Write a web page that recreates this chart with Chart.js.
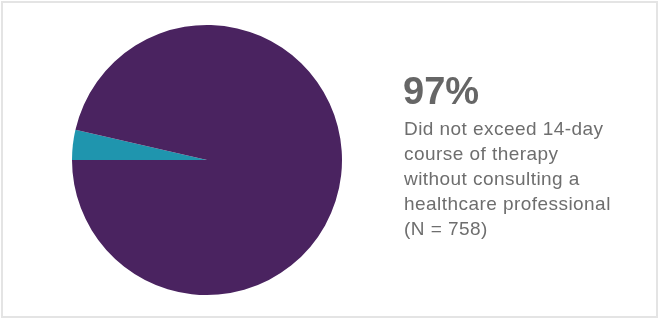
<!DOCTYPE html>
<html>
<head>
<meta charset="utf-8">
<script src="https://cdn.jsdelivr.net/npm/chart.js@4/dist/chart.umd.min.js"></script>
<style>
  body { margin: 0; background: #fff; }
  #wrap { position: relative; width: 660px; height: 320px; overflow: hidden; }
  #frame { position: absolute; left: 1px; top: 1px; width: 657px; height: 317px; box-sizing: border-box; border: 2px solid #e4e4e4; pointer-events: none; }
  #chart { position: absolute; left: 0; top: 0; }
  #big { position: absolute; left: 403px; top: 70px; font: bold 38px 'Liberation Sans', Arial, sans-serif; color: #666666; }
  #desc { position: absolute; left: 404px; top: 116px; font: 19px 'Liberation Sans', Arial, sans-serif; letter-spacing: 0.45px; line-height: 25px; color: #6e6e6e; }
</style>
</head>
<body>
<div id="wrap">
  <canvas id="chart" width="660" height="320"></canvas>
  <div id="big">97%</div>
  <div id="desc">Did not exceed 14-day<br>course of therapy<br>without consulting a<br>healthcare professional<br>(N = 758)</div>
  <div id="frame"></div>
</div>
<script>
const labels = ['Exceeded 14-day course', 'Did not exceed 14-day course']
const shares = [3.6, 96.4]
const colors = ['#1f95ae', '#4a2360']

const canvas = document.getElementById('chart')

new Chart(canvas, {
  type: 'pie',
  data: {
    labels,
    datasets: [{
      data: shares,
      backgroundColor: colors,
      borderWidth: 0
    }]
  },
  options: {
    responsive: false,
    animation: false,
    rotation: 270,
    layout: {
      padding: { left: 72, right: 318, top: 25, bottom: 25 }
    },
    plugins: {
      legend: { display: false },
      tooltip: { enabled: false }
    }
  }
})
</script>
</body>
</html>
